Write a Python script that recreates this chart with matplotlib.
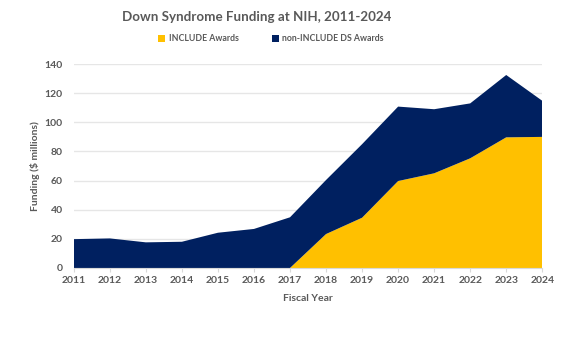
import matplotlib.pyplot as plt

years = [2011, 2012, 2013, 2014, 2015, 2016, 2017, 2018, 2019, 2020, 2021, 2022, 2023, 2024]
include_awards = [0, 0, 0, 0, 0, 0, 0, 23.3, 34.5, 59.7, 65.0, 75.3, 89.7, 90.0]
non_include_awards = [19.8, 20.3, 17.6, 18.0, 24.2, 26.8, 34.8, 37.1, 50.5, 51.1, 44.0, 37.7, 42.8, 24.8]

navy = '#002060'
gold = '#FFC000'
grey_text = '#595959'

plt.rcParams['font.family'] = ['Lato', 'DejaVu Sans']

fig = plt.figure(figsize=(5.72, 3.54), dpi=100)
ax = fig.add_axes([0.129, 0.243, 0.819, 0.576])

ax.stackplot(years, include_awards, non_include_awards,
             colors=[gold, navy], labels=['INCLUDE Awards', 'non-INCLUDE DS Awards'],
             linewidth=0)

ax.set_xlim(2011, 2024)
ax.set_ylim(0, 140)
ax.set_yticks(range(0, 141, 20))
ax.set_xticks(years)
ax.grid(axis='y', color='#E6E6E6', linewidth=1)
ax.set_axisbelow(True)

for side in ['top', 'right', 'left']:
    ax.spines[side].set_visible(False)
ax.spines['bottom'].set_color('#D9D9D9')

ax.tick_params(axis='y', length=0, pad=8, labelsize=7.5, labelcolor=grey_text)
ax.tick_params(axis='x', length=3, color='#D9D9D9', pad=3, labelsize=7.5, labelcolor=grey_text)
for lbl in ax.get_xticklabels() + ax.get_yticklabels():
    lbl.set_fontweight('bold')

ax.set_xlabel('Fiscal Year', fontsize=7.5, fontweight='bold', color=grey_text, labelpad=6)
ax.set_ylabel('Funding ($ millions)', fontsize=7.5, fontweight='bold', color=grey_text, labelpad=3)

fig.text(0.449, 0.952, 'Down Syndrome Funding at NIH, 2011-2024', ha='center', va='center',
         fontsize=9.6, fontweight='bold', color=grey_text)

handles, labels = ax.get_legend_handles_labels()
fig.legend(handles, labels, loc='center', bbox_to_anchor=(0.474, 0.89), ncol=2,
           frameon=False, handlelength=0.8, handleheight=0.8,
           columnspacing=3.8, handletextpad=0.4, labelcolor=grey_text,
           prop={'weight': 'bold', 'size': 6.3})

fig.savefig('out.png', dpi=100)
